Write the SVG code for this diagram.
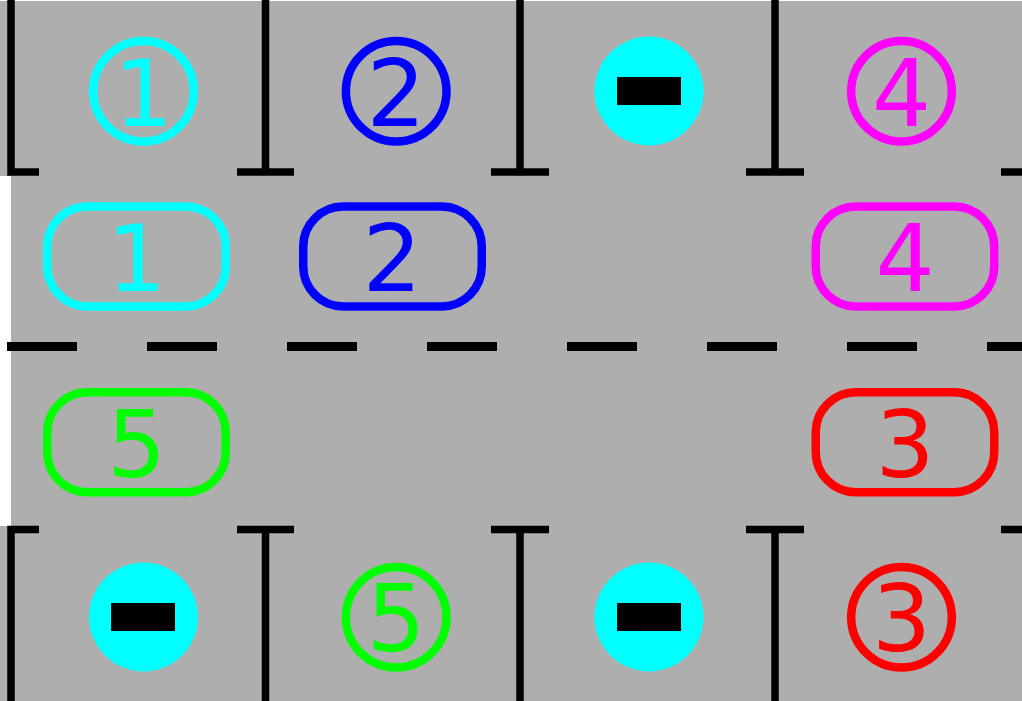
<svg xmlns="http://www.w3.org/2000/svg" width="1022" height="701" viewBox="0 0 1022 701">
<style>
text{font-family:"DejaVu Sans",sans-serif;font-size:93px;text-anchor:middle}
.w{stroke:#000;stroke-width:7.500;fill:none}
.d{stroke:#000;stroke-width:9;fill:none;stroke-dasharray:70 70}
.b{fill:none;stroke-width:8.500}
.disc{fill:#0ff}
</style>
<defs>
<rect id="pill" x="-89.250" y="-50" width="178.500" height="100" rx="40" ry="40"/>
<circle id="ring" r="50.300"/>
</defs>
<rect width="1022" height="701" fill="#fff"/>
<rect x="0" y="1" width="1022" height="175" fill="#aeaeae"/>
<rect x="11" y="176" width="1011" height="350" fill="#aeaeae"/>
<rect x="0" y="526" width="1022" height="175" fill="#aeaeae"/>
<g id="connectors">
<path class="w" d="M11 0V172H39M237 172H294M265.500 0V172M491 172H549M520 0V172M746 172H804M775 0V172M1001 172H1022"/>
<path class="w" d="M39 529.500H11V701M237 529.500H294M265.500 529.500V701M491 529.500H549M520 529.500V701M746 529.500H804M775 529.500V701M1001 529.500H1022"/>
<path class="d" d="M7 346.500H1022"/>
</g>
<g id="top-1" fill="#0ff"><use href="#ring" x="143.500" y="91.200" class="b" stroke="#0ff"/><text x="143.500" y="126">1</text></g>
<g id="top-2" fill="#00f"><use href="#ring" x="396.200" y="91.200" class="b" stroke="#00f"/><text x="396" y="126">2</text></g>
<g id="top-3"><circle class="disc" cx="649" cy="91" r="54.500"/><rect x="617" y="77" width="64" height="28"/></g>
<g id="top-4" fill="#f0f"><use href="#ring" x="901.500" y="91.200" class="b" stroke="#f0f"/><text x="901.500" y="126">4</text></g>
<g id="pill-1" fill="#0ff"><use href="#pill" x="136.500" y="256.500" class="b" stroke="#0ff"/><text x="136.500" y="291">1</text></g>
<g id="pill-2" fill="#00f"><use href="#pill" x="392.500" y="256.500" class="b" stroke="#00f"/><text x="392" y="291">2</text></g>
<g id="pill-4" fill="#f0f"><use href="#pill" x="905" y="256.500" class="b" stroke="#f0f"/><text x="905" y="291">4</text></g>
<g id="pill-5" fill="#0f0"><use href="#pill" x="136.500" y="442.200" class="b" stroke="#0f0"/><text x="136.500" y="477">5</text></g>
<g id="pill-3" fill="#f00"><use href="#pill" x="905" y="442.200" class="b" stroke="#f00"/><text x="905" y="477">3</text></g>
<g id="bottom-1"><circle class="disc" cx="143.500" cy="617" r="54.500"/><rect x="111" y="603" width="64" height="28"/></g>
<g id="bottom-5" fill="#0f0"><use href="#ring" x="396.200" y="617.200" class="b" stroke="#0f0"/><text x="396" y="651">5</text></g>
<g id="bottom-2"><circle class="disc" cx="649" cy="617" r="54.500"/><rect x="617" y="603" width="64" height="28"/></g>
<g id="bottom-3" fill="#f00"><use href="#ring" x="901.500" y="617.200" class="b" stroke="#f00"/><text x="901.500" y="651">3</text></g>
</svg>
